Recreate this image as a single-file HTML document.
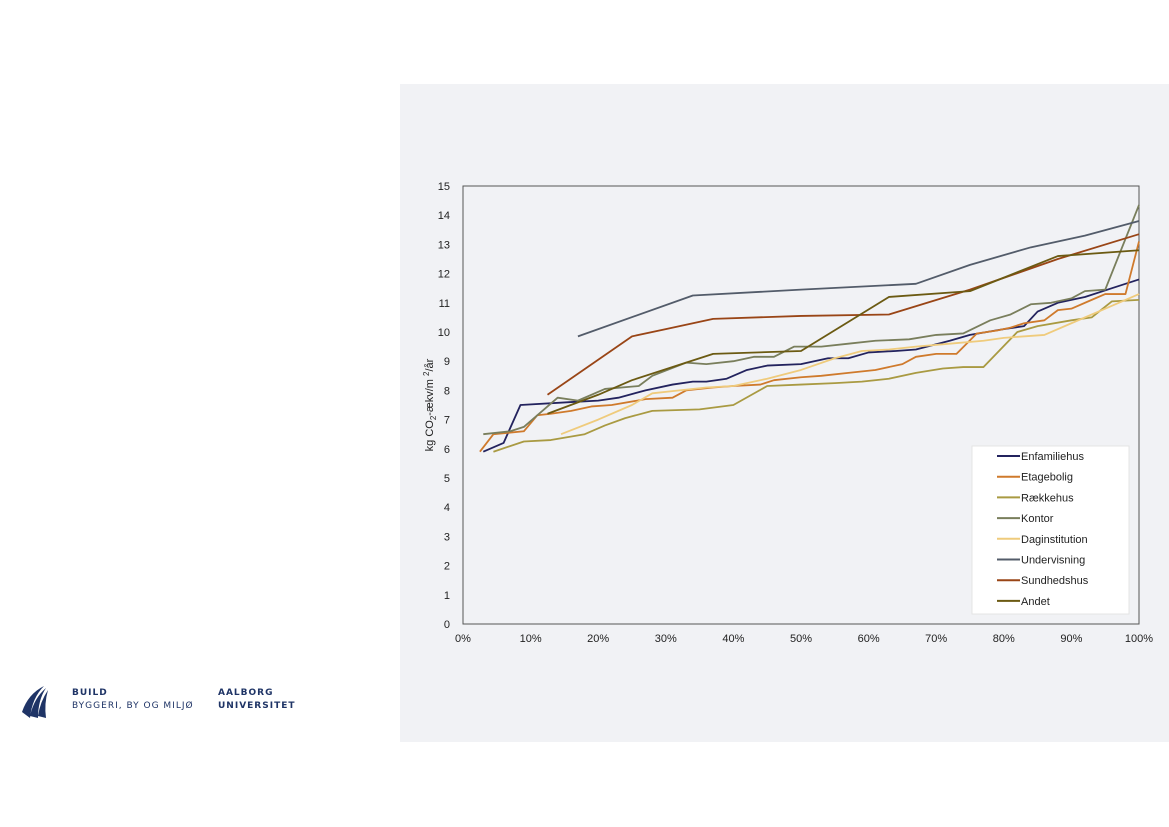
<!DOCTYPE html>
<html><head><meta charset="utf-8"><style>
body{margin:0;width:1169px;height:827px;background:#fff;position:relative;overflow:hidden;font-family:"Liberation Sans",sans-serif}
#panel{position:absolute;left:400px;top:84px;width:769px;height:658px;background:#f1f2f5}
svg{position:absolute;left:0;top:0}
.logo{position:absolute;font-family:"DejaVu Sans","Liberation Sans",sans-serif;color:#1f3466;font-size:9px;letter-spacing:1px}
</style></head><body>
<div id="panel"></div>
<svg id="chart" width="1169" height="827"></svg>
<svg width="40" height="40" style="left:18px;top:684px">
<path d="M4 28 Q10 10 26 2 Q14 14 12 34 Z M12 32 Q16 14 28 4 Q20 16 20 34 Z M20 32 Q22 18 30 6 Q26 20 28 34 Z" fill="#1f3466"/></svg>
<div class="logo" style="left:72px;top:688px;font-weight:bold">BUILD</div>
<div class="logo" style="left:72px;top:701px">BYGGERI, BY OG MILJØ</div>
<div class="logo" style="left:218px;top:688px;font-weight:bold">AALBORG</div>
<div class="logo" style="left:218px;top:701px;font-weight:bold">UNIVERSITET</div>
<script>
const seriesNames=["Enfamiliehus","Etagebolig","Rækkehus","Kontor","Daginstitution","Undervisning","Sundhedshus","Andet"];
const seriesColors=["#23235e","#cf7a2c","#a99a42","#797e5c","#efcb7c","#535c6a","#994516","#6b5a12"];
const enfX=[3,6,8.5,16,20,23,27,31,34,36,39,42,45,50,54,57,60,64,67,72,75,80,83,85,88,90,92,96,100];
const enfY=[5.9,6.2,7.5,7.6,7.65,7.75,8.0,8.2,8.3,8.3,8.4,8.7,8.85,8.9,9.1,9.1,9.3,9.35,9.4,9.7,9.9,10.1,10.2,10.7,11.0,11.1,11.2,11.5,11.8];
const etaX=[2.5,4.5,9,11,13,16,19,22,27,31,33,37,40,44,46,50,53,57,61,65,67,70,73,76,79,81,83,86,88,90,93,95,98,100];
const etaY=[5.9,6.5,6.6,7.15,7.2,7.3,7.45,7.5,7.7,7.75,8.0,8.1,8.15,8.2,8.35,8.45,8.5,8.6,8.7,8.9,9.15,9.25,9.25,9.95,10.05,10.15,10.3,10.4,10.75,10.8,11.1,11.3,11.3,13.1];
const raeX=[4.5,9,13,18,21,24,28,35,40,45,50,55,59,63,67,71,74,77,82,85,90,93,96,100];
const raeY=[5.9,6.25,6.3,6.5,6.8,7.05,7.3,7.35,7.5,8.15,8.2,8.25,8.3,8.4,8.6,8.75,8.8,8.8,10.0,10.2,10.4,10.5,11.05,11.1];
const konX=[3,7,9,14,17,21,26,28,33,36,40,43,46,49,53,57,61,66,70,74,78,81,84,87,90,92,95,100];
const konY=[6.5,6.6,6.75,7.75,7.65,8.05,8.15,8.5,8.95,8.9,9.0,9.15,9.15,9.5,9.5,9.6,9.7,9.75,9.9,9.95,10.4,10.6,10.95,11.0,11.15,11.4,11.45,14.35];
const dagX=[14.5,20,25,28,32,36,40,45,50,55,59,63,67,72,77,80,86,90,95,100];
const dagY=[6.5,7.0,7.5,7.9,8.0,8.1,8.15,8.4,8.7,9.1,9.35,9.4,9.5,9.6,9.7,9.8,9.9,10.3,10.8,11.3];
const undX=[17,34,50,67,75,84,92,100];
const undY=[9.85,11.25,11.45,11.65,12.3,12.9,13.3,13.8];
const sunX=[12.5,25,30,37,50,63,75,88,100];
const sunY=[7.85,9.85,10.1,10.45,10.55,10.6,11.45,12.5,13.35];
const andX=[12.5,20,25,33,37,50,63,75,88,100];
const andY=[7.2,7.85,8.35,8.95,9.25,9.35,11.2,11.4,12.6,12.8];
const yTicks=[0,1,2,3,4,5,6,7,8,9,10,11,12,13,14,15];
const xTicks=[0,10,20,30,40,50,60,70,80,90,100];
const allX=[enfX,etaX,raeX,konX,dagX,undX,sunX,andX];
const allY=[enfY,etaY,raeY,konY,dagY,undY,sunY,andY];

const L=463,R=1139,T=186,B=624;
const sx=v=>L+(R-L)*v/100, sy=v=>B-(B-T)*v/15;
const svg=document.getElementById('chart');
const NS='http://www.w3.org/2000/svg';
function mk(t,a){const e=document.createElementNS(NS,t);for(const k in a)e.setAttribute(k,a[k]);svg.appendChild(e);return e;}
const frame=mk('rect',{x:L,y:T,width:R-L,height:B-T,fill:'none',stroke:'#555',"stroke-width":1});


yTicks.forEach(v=>{const t=mk('text',{x:450,y:sy(v)+4,"text-anchor":"end","font-size":11,fill:'#222'});t.textContent=v;

});
xTicks.forEach(v=>{const t=mk('text',{x:sx(v),y:642,"text-anchor":"middle","font-size":11,fill:'#222'});t.textContent=v+'%';

});
const yt=mk('text',{x:0,y:0,transform:'translate(433,405) rotate(-90)',"text-anchor":"middle","font-size":11,fill:'#222'});
yt.innerHTML='kg CO<tspan font-size="8" dy="3">2</tspan><tspan dy="-3">-ækv/m </tspan><tspan font-size="8" dy="-4">2</tspan><tspan dy="4">/år</tspan>';


allX.forEach((xs,i)=>{
 const p=mk('polyline',{points:xs.map((x,j)=>sx(x)+','+sy(allY[i][j])).join(' '),fill:'none',stroke:seriesColors[i],"stroke-width":1.8,"stroke-linejoin":"round"});
 
 
});
const lg=mk('rect',{x:972,y:446,width:157,height:168,fill:'#fff',stroke:'#e4e4e4'});


seriesNames.forEach((n,i)=>{
 const y=456+i*20.7;
 const l=mk('line',{x1:997,x2:1020,y1:y,y2:y,stroke:seriesColors[i],"stroke-width":2});
 
 
 const t=mk('text',{x:1021,y:y+4,"font-size":11,fill:'#222'});t.textContent=n;
 
 
});
</script>
</body></html>
